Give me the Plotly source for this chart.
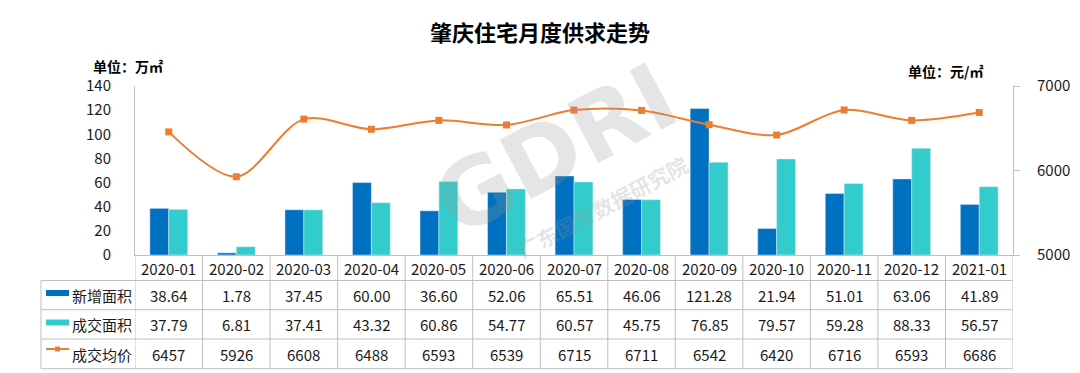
import plotly.graph_objects as go

# ---- data ----
months = ["2020-01", "2020-02", "2020-03", "2020-04", "2020-05", "2020-06", "2020-07",
          "2020-08", "2020-09", "2020-10", "2020-11", "2020-12", "2021-01"]
new_area = [38.64, 1.78, 37.45, 60.00, 36.60, 52.06, 65.51, 46.06, 121.28, 21.94, 51.01, 63.06, 41.89]
deal_area = [37.79, 6.81, 37.41, 43.32, 60.86, 54.77, 60.57, 45.75, 76.85, 79.57, 59.28, 88.33, 56.57]
avg_price = [6457, 5926, 6608, 6488, 6593, 6539, 6715, 6711, 6542, 6420, 6716, 6593, 6686]
series_names = ["新增面积", "成交面积", "成交均价"]
left_ticks = [0, 20, 40, 60, 80, 100, 120, 140]
right_ticks = [5000, 6000, 7000]

# ---- style ----
C_BLUE = "#0070C0"
C_CYAN = "#33CCCC"
C_ORANGE = "#ED7D31"
GRID = "#BFBFBF"
TXT = "#1a1a1a"
FONT = "Noto Sans CJK SC, Noto Sans, sans-serif"

# page body has an 8px margin: compensate so the figure fills the 1080x373 window
OFF = 8
W, H = 1080 - OFF, 373 - OFF
PLOT_L, PLOT_R, PLOT_T, PLOT_B = 135, 1013, 86, 255   # target window pixels
L, R, T, B = PLOT_L - OFF, 1080 - PLOT_R, PLOT_T - OFF, 373 - PLOT_B
PH = H - T - B
PW = W - L - R


def py(p):  # window pixel y -> paper y
    return (PLOT_B - p) / PH


def px(p):  # window pixel x -> paper x
    return (p - PLOT_L) / PW


fig = go.Figure()
fig.add_trace(go.Bar(x=months, y=new_area, name=series_names[0], marker_color=C_BLUE,
                     offsetgroup="a"))
fig.add_trace(go.Bar(x=months, y=deal_area, name=series_names[1], marker_color=C_CYAN,
                     offsetgroup="b"))
fig.add_trace(go.Scatter(x=months, y=avg_price, name=series_names[2], yaxis="y2",
                         mode="lines+markers",
                         line=dict(color=C_ORANGE, width=2, shape="spline", smoothing=0.9),
                         marker=dict(symbol="square", size=7, color=C_ORANGE)))

shapes = []
annotations = []

# table geometry (window pixel rows)
row_lines = [280.5, 309.7, 339.0, 368.7]
row_centers = [295.0, 324.5, 354.0]
header_center = 268.0
table_left = 41

for yl in row_lines:
    shapes.append(dict(type="line", xref="paper", yref="paper", x0=px(table_left), x1=1,
                       y0=py(yl), y1=py(yl), line=dict(color=GRID, width=1)))
shapes.append(dict(type="line", xref="paper", yref="paper", x0=px(table_left), x1=px(table_left),
                   y0=py(row_lines[0]), y1=py(row_lines[-1]), line=dict(color=GRID, width=1)))
for i in range(len(months) + 1):
    shapes.append(dict(type="line", xref="x", yref="paper", x0=i - 0.5, x1=i - 0.5,
                       y0=0, y1=py(row_lines[-1]), line=dict(color=GRID, width=1)))

cell_font = dict(size=15, color=TXT, family=FONT)
rows = [[f"{v:.2f}" for v in new_area], [f"{v:.2f}" for v in deal_area], [f"{v}" for v in avg_price]]
for i, m in enumerate(months):
    annotations.append(dict(x=m, xref="x", y=py(header_center), yref="paper", yanchor="middle",
                            xanchor="center", text=m, showarrow=False, font=cell_font))
    for r, vals in enumerate(rows):
        annotations.append(dict(x=m, xref="x", y=py(row_centers[r]), yref="paper", yanchor="middle",
                                xanchor="center", text=vals[i], showarrow=False, font=cell_font))

# legend keys in the table's first column
shapes.append(dict(type="rect", xref="paper", yref="paper", x0=px(46), x1=px(69),
                   y0=py(296), y1=py(290), fillcolor=C_BLUE, line=dict(width=0)))
shapes.append(dict(type="rect", xref="paper", yref="paper", x0=px(46), x1=px(69),
                   y0=py(325.5), y1=py(319.5), fillcolor=C_CYAN, line=dict(width=0)))
shapes.append(dict(type="line", xref="paper", yref="paper", x0=px(46), x1=px(69),
                   y0=py(349), y1=py(349), line=dict(color=C_ORANGE, width=2)))
shapes.append(dict(type="rect", xref="paper", yref="paper", x0=px(55), x1=px(60),
                   y0=py(351.5), y1=py(346.5), fillcolor=C_ORANGE, line=dict(width=0)))
for r, name in enumerate(series_names):
    annotations.append(dict(x=px(70), xref="paper", xanchor="left", y=py(row_centers[r]), yref="paper",
                            yanchor="middle", text=name, showarrow=False, font=cell_font))

# unit labels
annotations.append(dict(x=px(91), xref="paper", xanchor="left", y=py(66), yref="paper", yanchor="middle",
                        text="<b>单位：万㎡</b>", showarrow=False, font=dict(size=14, color="#000", family=FONT)))
annotations.append(dict(x=px(985), xref="paper", xanchor="right", y=py(71), yref="paper", yanchor="middle",
                        text="<b>单位：元/㎡</b>", showarrow=False, font=dict(size=14, color="#000", family=FONT)))

# faint watermark
annotations.append(dict(x=px(555), xref="paper", y=py(150), yref="paper", xanchor="center", yanchor="middle",
                        text="<b>GDRI</b>", textangle=-28, showarrow=False,
                        font=dict(size=92, color="rgba(150,150,150,0.25)", family="DejaVu Sans")))
annotations.append(dict(x=px(602), xref="paper", y=py(207), yref="paper", xanchor="center", yanchor="middle",
                        text="<b>广东国智数据研究院</b>", textangle=-28, showarrow=False,
                        font=dict(size=21, color="rgba(150,150,150,0.25)", family=FONT)))

fig.update_layout(
    width=W, height=H,
    margin=dict(l=L, r=R, t=T, b=B, autoexpand=False),
    paper_bgcolor="white", plot_bgcolor="white",
    showlegend=False,
    barmode="group", bargap=0.44, bargroupgap=0,
    title=dict(text="<b>肇庆住宅月度供求走势</b>", x=(540 - OFF) / W, xanchor="center",
               y=1 - (33 - OFF) / H, yanchor="middle",
               font=dict(size=22, color="#000", family=FONT)),
    xaxis=dict(type="category", range=[-0.5, len(months) - 0.5], showticklabels=False, ticks="",
               showline=True, linecolor=GRID, linewidth=1, showgrid=False, zeroline=False),
    yaxis=dict(range=[0, 140], tickvals=left_ticks, showline=True, linecolor=GRID, linewidth=1,
               showgrid=False, zeroline=False, ticks="", ticklabelstandoff=20,
               tickfont=dict(size=15, color=TXT, family=FONT)),
    yaxis2=dict(range=[5000, 7000], tickvals=right_ticks, overlaying="y", side="right",
                showline=True, linecolor=GRID, linewidth=1, showgrid=False, zeroline=False,
                ticks="outside", ticklen=6, tickcolor=GRID, ticklabelstandoff=14,
                tickfont=dict(size=15, color=TXT, family=FONT)),
    shapes=shapes,
    annotations=annotations,
)

fig.write_html("out.html")
